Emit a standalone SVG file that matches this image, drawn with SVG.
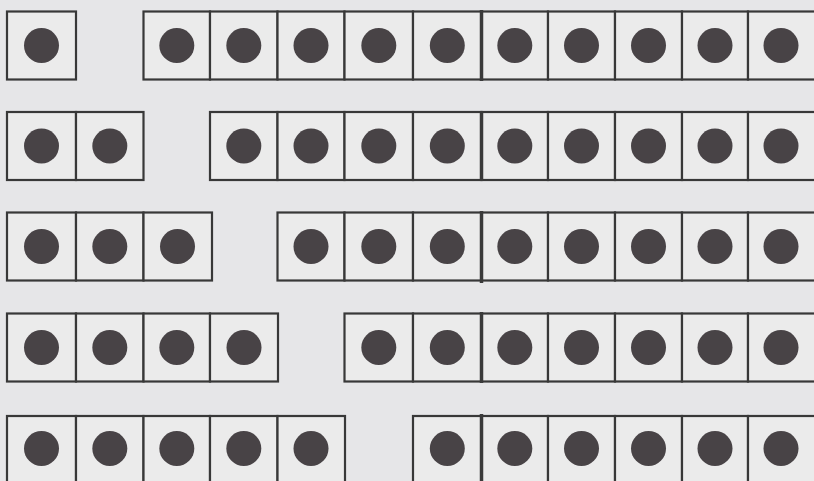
<svg xmlns="http://www.w3.org/2000/svg" width="814" height="481" viewBox="0 0 814 481">
<style>
.bg{fill:#e6e6e8}
.cell{fill:#ebebeb;stroke:#383838;stroke-width:2.2}
.dot{fill:#484346}
.seam{stroke:#3a3a3a;stroke-width:3.5}
</style>
<rect class="bg" x="0" y="0" width="814" height="481"/>
<g id="row1">
  <g id="r1-left">
    <rect class="cell" x="7" y="11.5" width="69" height="68"/><circle class="dot" cx="41.5" cy="45.5" r="17.5"/>
  </g>
  <g id="r1-right">
    <rect class="cell" x="143.5" y="11.5" width="66.5" height="68"/><circle class="dot" cx="176.8" cy="45.5" r="17.5"/>
    <rect class="cell" x="210" y="11.5" width="67.5" height="68"/><circle class="dot" cx="243.8" cy="45.5" r="17.5"/>
    <rect class="cell" x="277.5" y="11.5" width="67" height="68"/><circle class="dot" cx="311" cy="45.5" r="17.5"/>
    <rect class="cell" x="344.5" y="11.5" width="68.5" height="68"/><circle class="dot" cx="378.8" cy="45.5" r="17.5"/>
    <rect class="cell" x="413" y="11.5" width="68.5" height="68"/><circle class="dot" cx="447.3" cy="45.5" r="17.5"/>
    <rect class="cell" x="481.5" y="11.5" width="66.5" height="68"/><circle class="dot" cx="514.8" cy="45.5" r="17.5"/>
    <rect class="cell" x="548" y="11.5" width="67" height="68"/><circle class="dot" cx="581.5" cy="45.5" r="17.5"/>
    <rect class="cell" x="615" y="11.5" width="67" height="68"/><circle class="dot" cx="648.5" cy="45.5" r="17.5"/>
    <rect class="cell" x="682" y="11.5" width="66" height="68"/><circle class="dot" cx="715" cy="45.5" r="17.5"/>
    <rect class="cell" x="748" y="11.5" width="70" height="68"/><circle class="dot" cx="781" cy="45.5" r="17.5"/>
    <line class="seam" x1="481.5" y1="10" x2="481.5" y2="81"/>
  </g>
</g>
<g id="row2">
  <g id="r2-left">
    <rect class="cell" x="7" y="112" width="69" height="68"/><circle class="dot" cx="41.5" cy="146" r="17.5"/>
    <rect class="cell" x="76" y="112" width="67.5" height="68"/><circle class="dot" cx="109.8" cy="146" r="17.5"/>
  </g>
  <g id="r2-right">
    <rect class="cell" x="210" y="112" width="67.5" height="68"/><circle class="dot" cx="243.8" cy="146" r="17.5"/>
    <rect class="cell" x="277.5" y="112" width="67" height="68"/><circle class="dot" cx="311" cy="146" r="17.5"/>
    <rect class="cell" x="344.5" y="112" width="68.5" height="68"/><circle class="dot" cx="378.8" cy="146" r="17.5"/>
    <rect class="cell" x="413" y="112" width="68.5" height="68"/><circle class="dot" cx="447.3" cy="146" r="17.5"/>
    <rect class="cell" x="481.5" y="112" width="66.5" height="68"/><circle class="dot" cx="514.8" cy="146" r="17.5"/>
    <rect class="cell" x="548" y="112" width="67" height="68"/><circle class="dot" cx="581.5" cy="146" r="17.5"/>
    <rect class="cell" x="615" y="112" width="67" height="68"/><circle class="dot" cx="648.5" cy="146" r="17.5"/>
    <rect class="cell" x="682" y="112" width="66" height="68"/><circle class="dot" cx="715" cy="146" r="17.5"/>
    <rect class="cell" x="748" y="112" width="70" height="68"/><circle class="dot" cx="781" cy="146" r="17.5"/>
    <line class="seam" x1="481.5" y1="111" x2="481.5" y2="181"/>
  </g>
</g>
<g id="row3">
  <g id="r3-left">
    <rect class="cell" x="7" y="212.5" width="69" height="68"/><circle class="dot" cx="41.5" cy="246.5" r="17.5"/>
    <rect class="cell" x="76" y="212.5" width="67.5" height="68"/><circle class="dot" cx="109.8" cy="246.5" r="17.5"/>
    <rect class="cell" x="143.5" y="212.5" width="68.5" height="68"/><circle class="dot" cx="177.5" cy="246.5" r="17.5"/>
  </g>
  <g id="r3-right">
    <rect class="cell" x="277.5" y="212.5" width="67" height="68"/><circle class="dot" cx="311" cy="246.5" r="17.5"/>
    <rect class="cell" x="344.5" y="212.5" width="68.5" height="68"/><circle class="dot" cx="378.8" cy="246.5" r="17.5"/>
    <rect class="cell" x="413" y="212.5" width="68.5" height="68"/><circle class="dot" cx="447.3" cy="246.5" r="17.5"/>
    <rect class="cell" x="481.5" y="212.5" width="66.5" height="68"/><circle class="dot" cx="514.8" cy="246.5" r="17.5"/>
    <rect class="cell" x="548" y="212.5" width="67" height="68"/><circle class="dot" cx="581.5" cy="246.5" r="17.5"/>
    <rect class="cell" x="615" y="212.5" width="67" height="68"/><circle class="dot" cx="648.5" cy="246.5" r="17.5"/>
    <rect class="cell" x="682" y="212.5" width="66" height="68"/><circle class="dot" cx="715" cy="246.5" r="17.5"/>
    <rect class="cell" x="748" y="212.5" width="70" height="68"/><circle class="dot" cx="781" cy="246.5" r="17.5"/>
    <line class="seam" x1="481.5" y1="211" x2="481.5" y2="283"/>
  </g>
</g>
<g id="row4">
  <g id="r4-left">
    <rect class="cell" x="7" y="313.5" width="69" height="68"/><circle class="dot" cx="41.5" cy="347.5" r="17.5"/>
    <rect class="cell" x="76" y="313.5" width="67.5" height="68"/><circle class="dot" cx="109.8" cy="347.5" r="17.5"/>
    <rect class="cell" x="143.5" y="313.5" width="66.5" height="68"/><circle class="dot" cx="176.8" cy="347.5" r="17.5"/>
    <rect class="cell" x="210" y="313.5" width="68" height="68"/><circle class="dot" cx="244" cy="347.5" r="17.5"/>
  </g>
  <g id="r4-right">
    <rect class="cell" x="344.5" y="313.5" width="68.5" height="68"/><circle class="dot" cx="378.8" cy="347.5" r="17.5"/>
    <rect class="cell" x="413" y="313.5" width="68.5" height="68"/><circle class="dot" cx="447.3" cy="347.5" r="17.5"/>
    <rect class="cell" x="481.5" y="313.5" width="66.5" height="68"/><circle class="dot" cx="514.8" cy="347.5" r="17.5"/>
    <rect class="cell" x="548" y="313.5" width="67" height="68"/><circle class="dot" cx="581.5" cy="347.5" r="17.5"/>
    <rect class="cell" x="615" y="313.5" width="67" height="68"/><circle class="dot" cx="648.5" cy="347.5" r="17.5"/>
    <rect class="cell" x="682" y="313.5" width="66" height="68"/><circle class="dot" cx="715" cy="347.5" r="17.5"/>
    <rect class="cell" x="748" y="313.5" width="70" height="68"/><circle class="dot" cx="781" cy="347.5" r="17.5"/>
    <line class="seam" x1="481.5" y1="312" x2="481.5" y2="383"/>
  </g>
</g>
<g id="row5">
  <g id="r5-left">
    <rect class="cell" x="7" y="416" width="69" height="70"/><circle class="dot" cx="41.5" cy="448.5" r="17.5"/>
    <rect class="cell" x="76" y="416" width="67.5" height="70"/><circle class="dot" cx="109.8" cy="448.5" r="17.5"/>
    <rect class="cell" x="143.5" y="416" width="66.5" height="70"/><circle class="dot" cx="176.8" cy="448.5" r="17.5"/>
    <rect class="cell" x="210" y="416" width="67.5" height="70"/><circle class="dot" cx="243.8" cy="448.5" r="17.5"/>
    <rect class="cell" x="277.5" y="416" width="67.5" height="70"/><circle class="dot" cx="311" cy="448.5" r="17.5"/>
  </g>
  <g id="r5-right">
    <rect class="cell" x="413" y="416" width="68.5" height="70"/><circle class="dot" cx="447.3" cy="448.5" r="17.5"/>
    <rect class="cell" x="481.5" y="416" width="66.5" height="70"/><circle class="dot" cx="514.8" cy="448.5" r="17.5"/>
    <rect class="cell" x="548" y="416" width="67" height="70"/><circle class="dot" cx="581.5" cy="448.5" r="17.5"/>
    <rect class="cell" x="615" y="416" width="67" height="70"/><circle class="dot" cx="648.5" cy="448.5" r="17.5"/>
    <rect class="cell" x="682" y="416" width="66" height="70"/><circle class="dot" cx="715" cy="448.5" r="17.5"/>
    <rect class="cell" x="748" y="416" width="70" height="70"/><circle class="dot" cx="781" cy="448.5" r="17.5"/>
    <line class="seam" x1="481.5" y1="414" x2="481.5" y2="481"/>
  </g>
</g>
<g id="connectors"/>
</svg>
